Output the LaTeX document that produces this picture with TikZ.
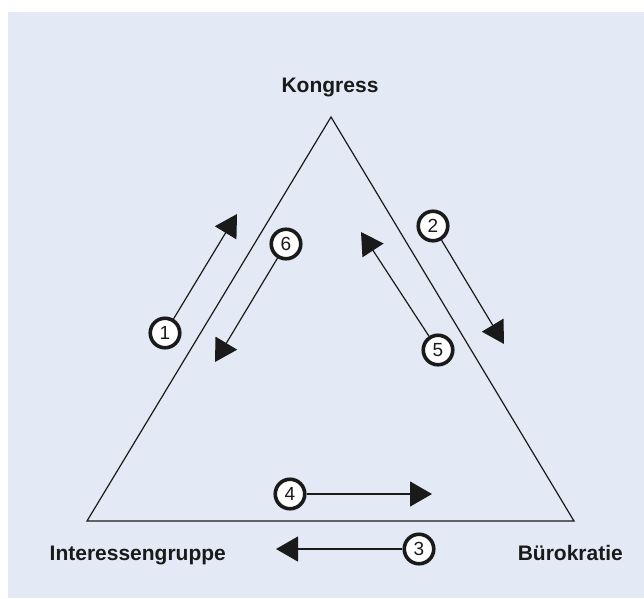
\documentclass[tikz,border=0pt]{standalone}
\usepackage{fontspec}
\setmainfont{Liberation Sans}
\usetikzlibrary{arrows.meta}
\definecolor{panel}{HTML}{E3EAF5}
\definecolor{ink}{HTML}{1A1A1A}

\begin{document}
\begin{tikzpicture}[x=1pt, y=-1pt,
  actor/.style={font=\bfseries\fontsize{21}{24}\selectfont, text=ink, inner sep=0pt},
  num/.style={draw=ink, fill=white, circle, line width=3.6pt, minimum size=29.5pt, inner sep=0pt, font=\fontsize{19}{22}\selectfont, text=ink},
  flow/.style={draw=ink, line width=1.2pt, -{Triangle[length=22pt, width=25pt]}}]

  \useasboundingbox (0,0) rectangle (644,598);
  \fill[panel] (8,12) rectangle (644,598);

  % Triangle corners
  \coordinate (K) at (331,117);
  \coordinate (I) at (87,521);
  \coordinate (B) at (574,521);
  \draw[ink, line width=1.2pt, line join=miter] (K) -- (I) -- (B) -- cycle;

  % Labels
  \node[actor, anchor=base] (kongress) at (330,92) {Kongress};
  \node[actor, anchor=base west] (gruppe) at (49.5,560) {Interessengruppe};
  \node[actor, anchor=base east] (buero) at (623,560) {Bürokratie};

  % Arrow tips
  \coordinate (t1) at (237,214);
  \coordinate (t2) at (504,344);
  \coordinate (t3) at (276,549);
  \coordinate (t4) at (432,494);
  \coordinate (t5) at (361,232);
  \coordinate (t6) at (215,362);

  % Numbered circles
  \node[num] (c1) at (165,333) {1};
  \node[num] (c2) at (433,226) {2};
  \node[num] (c3) at (419,549) {3};
  \node[num] (c4) at (290,494) {4};
  \node[num] (c5) at (438,350) {5};
  \node[num] (c6) at (286,244) {6};

  % Flows
  \draw[flow] (c1) -- (t1);
  \draw[flow] (c2) -- (t2);
  \draw[flow] (c3) -- (t3);
  \draw[flow] (c4) -- (t4);
  \draw[flow] (c5) -- (t5);
  \draw[flow] (c6) -- (t6);

\end{tikzpicture}
\end{document}
